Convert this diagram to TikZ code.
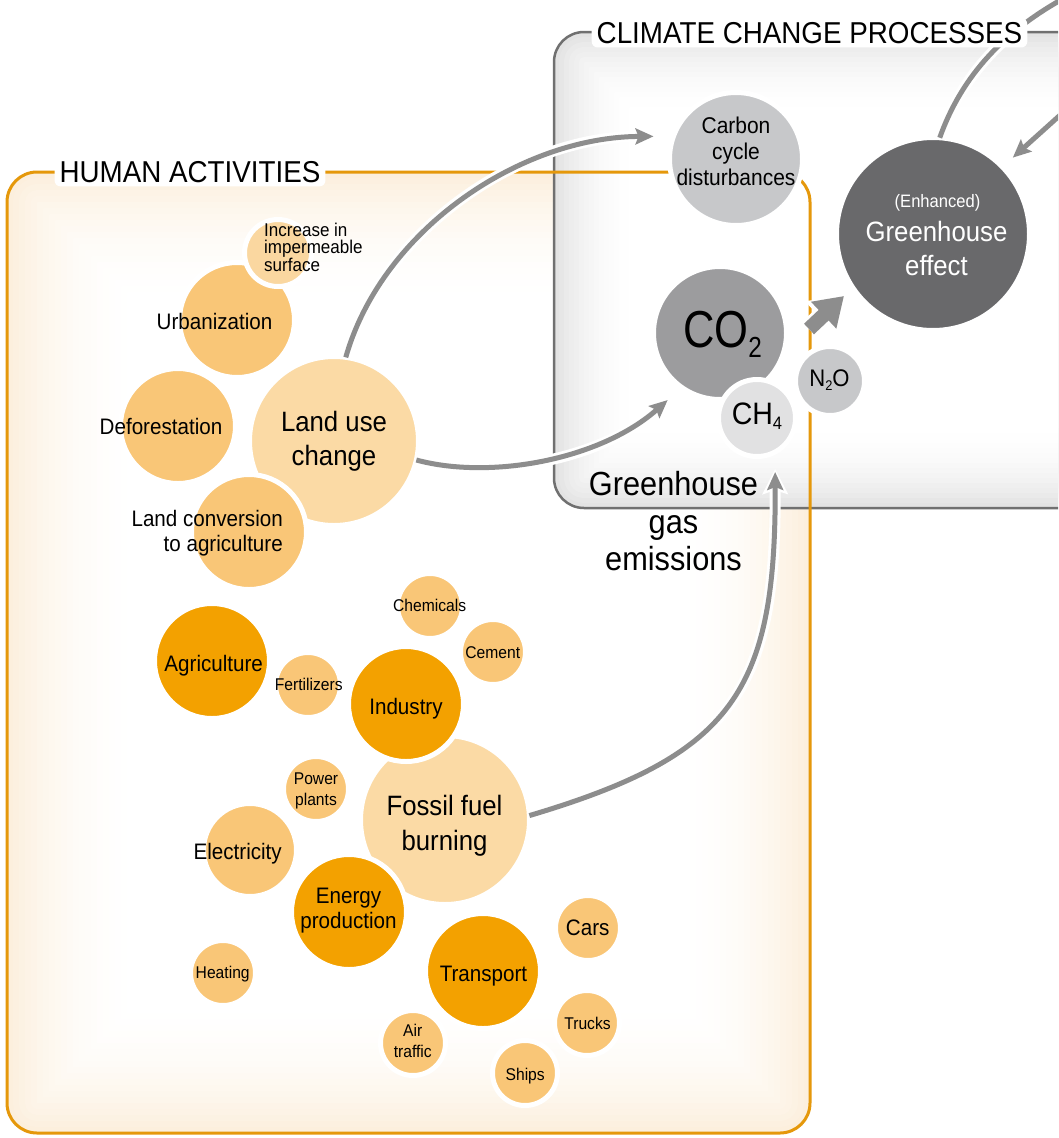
\documentclass[tikz,border=0pt]{standalone}
\usepackage{fontspec}
\setmainfont{Liberation Sans}[FakeStretch=0.92]
\usepackage{graphicx}
\usetikzlibrary{arrows.meta,calc}
\definecolor{orD}{HTML}{F3A100}
\definecolor{orM}{HTML}{F9C677}
\definecolor{orL}{HTML}{FBDAA5}
\definecolor{orImp}{HTML}{FAD7A0}
\definecolor{grC}{HTML}{C7C8CA}
\definecolor{grCO}{HTML}{9C9C9E}
\definecolor{grCH}{HTML}{E1E1E2}
\definecolor{grG}{HTML}{69696B}
\definecolor{arr}{HTML}{8D8D8D}
\definecolor{orS}{HTML}{E5980B}
\definecolor{grS}{HTML}{707070}
\definecolor{cream}{HTML}{FCEFDD}
\definecolor{mist}{HTML}{E3E3E3}
\newcommand\fTitle{\fontsize{30.2}{34}\selectfont}
\newcommand\fBig{\fontsize{28}{34.3}\selectfont}
\newcommand\fGhg{\fontsize{33.4}{37.3}\selectfont}
\newcommand\fMed{\fontsize{22.4}{25.5}\selectfont}
\newcommand\fCarb{\fontsize{22.8}{26}\selectfont}
\newcommand\fSm{\fontsize{17}{20.5}\selectfont}
\newcommand\fImp{\fontsize{18.5}{16.7}\selectfont}
\newcommand\fEnh{\fontsize{18}{18}\selectfont}
\begin{document}
\begin{tikzpicture}[x=1pt,y=-1pt,
  bub/.style={circle, draw=white, line width=5pt, inner sep=0pt, outer sep=0pt, minimum size=#1},
  lbl/.style={inner sep=0pt, align=center, text=black},
  ttl/.style={fill=white, rounded corners=6pt, inner xsep=5pt, inner ysep=4pt, font=\fTitle, text=black},
  halo/.style={draw=white, line width=11pt},
  halotip/.style={-{Stealth[length=25pt,width=25pt,inset=4pt]}},
  conn/.style={draw=arr, line width=5pt, -{Stealth[length=18pt,width=16pt,inset=3pt]}},
]
\useasboundingbox (0,0) rectangle (1058,1138);
\clip (0,0) rectangle (1058,1138);
\fill[white] (0,0) rectangle (1058,1138);

% ---- human activities box fill (edge vignette)
\foreach \k in {0,...,22}{
  \pgfmathsetmacro\dd{\k*6}
  \pgfmathsetmacro\pp{100*(1-\k/22)*(1-\k/22)}
  \pgfmathsetmacro\rr{max(30-\dd,0.5)}
  \fill[cream!\pp!white, rounded corners=\rr pt] (7+\dd,172+\dd) rectangle (810-\dd,1133-\dd);
}
% ---- climate box fill
\foreach \k in {0,...,16}{
  \pgfmathsetmacro\dd{\k*5}
  \pgfmathsetmacro\pp{100*(1-\k/16)*(1-\k/16)}
  \pgfmathsetmacro\rr{max(30-\dd,0.5)}
  \fill[mist!\pp!white, rounded corners=\rr pt] (554+\dd,32+\dd) rectangle (1100,508-\dd);
}
\draw[grS, line width=2.5pt, rounded corners=30pt] (554,32) rectangle (1100,508);
\draw[orS, line width=3pt, rounded corners=30pt] (7,172) rectangle (810,1133);

% ---- bubbles: human activities
\node[bub=169pt, fill=orL] (luc) at (334,441) {};
\node[bub=115pt, fill=orM] (urb) at (237,320) {};
\node[bub=115pt, fill=orM] (def) at (178,426) {};
\node[bub=67pt, fill=orImp] (imp) at (278,253) {};
\node[bub=115pt, fill=orM] (lconv) at (249,532) {};
\node[bub=65pt, fill=orM] (chem) at (430,606) {};
\node[bub=65pt, fill=orM] (cem) at (493,652) {};
\node[bub=115pt, fill=orD] (agri) at (212,661) {};
\node[bub=65pt, fill=orM] (fert) at (308,685) {};
\node[bub=65pt, fill=orM] (pow) at (316,789) {};
\node[bub=169pt, fill=orL] (ffb) at (445,820) {};
\node[bub=115pt, fill=orD] (ind) at (406,704) {};
\node[bub=115pt, fill=orD] (enp) at (349,912) {};
\node[bub=93pt, fill=orM] (elec) at (250,850) {};
\node[bub=65pt, fill=orM] (heat) at (223,973) {};
\node[bub=115pt, fill=orD] (trans) at (483,971) {};
\node[bub=65pt, fill=orM] (cars) at (588,928) {};
\node[bub=65pt, fill=orM] (trucks) at (587,1023) {};
\node[bub=65pt, fill=orM] (air) at (413,1043) {};
\node[bub=65pt, fill=orM] (ships) at (525,1073) {};

% ---- bubbles: climate
\node[bub=133pt, fill=grC] (carbon) at (736,159) {};
\node[bub=133pt, fill=grCO] (co2) at (720,333) {};
\node[bub=77pt, fill=grCH] (ch4) at (757,418) {};
\node[bub=69pt, fill=grC] (n2o) at (830,381) {};
\node[bub=193pt, fill=grG] (ghe) at (933,234) {};

% ---- connectors
\coordinate (o1) at (1068,-4);
\coordinate (o2) at (1068,108);
\coordinate (fatS) at (809,329);
\coordinate (fatE) at (844,296);

\draw[halo, halotip, shorten >=17pt] (luc.82) .. controls (382,230) and (520,137) .. (carbon.160);
\draw[conn, shorten >=20pt] (luc.82) .. controls (382,230) and (520,137) .. (carbon.160);

\draw[halo, halotip, shorten >=16pt] (luc.-13) .. controls (490,480) and (600,460) .. (co2.-125);
\draw[conn, shorten >=19pt] (luc.-13) .. controls (490,480) and (600,460) .. (co2.-125);

\draw[halo, halotip, shorten >=17pt] (ffb.3) .. controls (733,755) and (776,692) .. (ch4.-62);
\draw[conn, shorten >=20pt] (ffb.3) .. controls (733,755) and (776,692) .. (ch4.-62);

\draw[halo] (ghe.86) .. controls (962,75) and (1005,30) .. (o1);
\draw[draw=arr, line width=5pt] (ghe.86) .. controls (962,75) and (1005,30) .. (o1);

\draw[halo, halotip, shorten >=11pt] (o2) -- (ghe.44);
\draw[conn, shorten >=14pt] (o2) -- (ghe.44);

\draw[white, line width=20pt, -{Triangle[length=32pt,width=44pt]}] (fatS) -- (fatE);
\draw[arr, line width=14.5pt, -{Triangle[length=28pt,width=35pt]}] (fatS) -- (fatE);

% ---- labels: human activities
\node[lbl, font=\fImp, align=left, anchor=west] (impT) at (264,247.2) {Increase in\\impermeable\\surface};
\node[lbl, font=\fMed] (urbT) at (214.5,321) {Urbanization};
\node[lbl, font=\fMed] (defT) at (161,426.7) {Deforestation};
\node[lbl, font=\fBig] (lucT) at (334,441) {Land use\\change};
\node[lbl, font=\fMed, align=right, anchor=east] (lconvT) at (283,533.4) {Land conversion\\to agriculture};
\node[lbl, font=\fSm] (chemT) at (429.7,605.2) {Chemicals};
\node[lbl, font=\fSm] (cemT) at (492.8,652.2) {Cement};
\node[lbl, font=\fMed] (agriT) at (213.7,665.2) {Agriculture};
\node[lbl, font=\fSm] (fertT) at (308.7,684.5) {Fertilizers};
\node[lbl, font=\fMed] (indT) at (406,708.2) {Industry};
\node[lbl, font=\fSm] (powT) at (316,791) {Power\\plants};
\node[lbl, font=\fBig] (ffbT) at (444.5,825.6) {Fossil fuel\\burning};
\node[lbl, font=\fMed] (elecT) at (237.7,853.5) {Electricity};
\node[lbl, font=\fMed] (enpT) at (348.5,910.4) {Energy\\production};
\node[lbl, font=\fSm] (heatT) at (222.7,973.9) {Heating};
\node[lbl, font=\fMed] (transT) at (483.5,975.9) {Transport};
\node[lbl, font=\fMed] (carsT) at (587.7,927.3) {Cars};
\node[lbl, font=\fSm] (trucksT) at (587.5,1023.8) {Trucks};
\node[lbl, font=\fSm] (airT) at (412.8,1041) {Air\\traffic};
\node[lbl, font=\fSm] (shipsT) at (525.2,1075.6) {Ships};

% ---- labels: climate
\node[lbl, font=\fCarb] (carbT) at (736,150.9) {Carbon\\cycle\\disturbances};
\node[lbl, font=\fEnh, text=white] (enhT) at (937.5,203.3) {(Enhanced)};
\node[lbl, font=\fBig, text=white] (gheT) at (936.5,248.6) {Greenhouse\\effect};
\node[lbl] (co2T) at (722.5,334.5) {\fontsize{52}{52}\selectfont\scalebox{0.91}[1]{CO\raisebox{-0.2em}{\fontsize{29}{29}\selectfont 2}}};
\node[lbl] (ch4T) at (757,416) {\fontsize{31}{31}\selectfont CH\raisebox{-0.15em}{\fontsize{18}{18}\selectfont 4}};
\node[lbl] (n2oT) at (829.5,380) {\fontsize{24}{24}\selectfont N\raisebox{-0.15em}{\fontsize{14}{14}\selectfont 2}O};
\node[lbl, font=\fGhg] (ghgT) at (673.5,521.2) {Greenhouse\\gas\\emissions};

% ---- titles
\node[ttl] (humT) at (190,171.7) {HUMAN ACTIVITIES};
\node[ttl] (cliT) at (809.5,32.8) {CLIMATE CHANGE PROCESSES};
\end{tikzpicture}
\end{document}
